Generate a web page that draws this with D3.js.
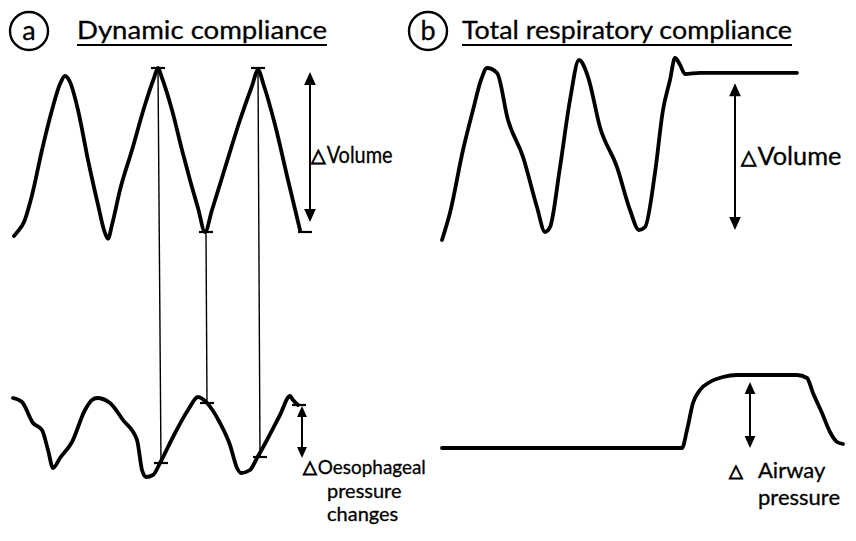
<!DOCTYPE html>
<html>
<head>
<meta charset="utf-8">
<script src="https://cdn.jsdelivr.net/npm/d3@7"></script>
<style>
  html, body { margin: 0; padding: 0; background: #fff; }
  svg { display: block; }
  text { font-family: "Lato", "Open Sans", sans-serif; fill: #000; stroke: #000; stroke-width: 0.3; }
</style>
</head>
<body>
<svg id="chart" width="856" height="541"></svg>
<script>
// ---------------- DATA ----------------
// Panel (a): lung volume trace (time s, volume mL)
const volATime = [0.08,0.16,0.28,0.44,0.64,0.84,1.00,1.10,1.20,1.36,1.56,1.76,1.88,1.96,2.04,2.20,2.44,2.70,2.88,2.96,3.04,3.24,3.44,3.60,3.76,3.90,4.04,4.30,4.60,4.84,4.96,5.08,5.30,5.56,5.80];
const volAValue = [10,22,45,112,225,325,390,410,395,325,200,88,25,3,38,125,225,338,405,430,405,325,225,150,80,20,75,180,300,385,425,385,288,150,25];

// Panel (a): oesophageal pressure trace (time s, cmH2O)
const oesTime = [0.06,0.24,0.46,0.64,0.76,0.86,1.00,1.24,1.50,1.64,1.74,2.00,2.26,2.54,2.64,2.72,2.86,3.00,3.26,3.56,3.76,3.94,4.20,4.40,4.54,4.62,4.80,4.94,5.14,5.40,5.60,5.66,5.76];
const oesValue = [0.2,-0.2,-2.3,-3.0,-5.0,-6.8,-5.8,-4.2,-1.0,0.0,0.2,-0.3,-2.0,-4.0,-7.0,-7.7,-7.5,-6.3,-3.7,-1.0,0.3,-0.3,-2.3,-4.5,-6.8,-7.3,-7.0,-5.8,-4.0,-1.5,0.4,0.0,-0.5];

// Panel (a): points of zero flow marked on the traces
const volMarkTime = [2.96, 3.92, 4.96, 5.90];
const volMarkValue = [430, 20, 430, 20];
const oesMarkTime = [3.02, 3.94, 5.00, 5.78];
const oesMarkValue = [-6.3, -0.3, -5.7, -0.5];
const markLinks = [[0, 0], [1, 1], [2, 2]];

// Panel (b): volume trace with end-inspiratory hold
const volBTime = [0.04,0.20,0.46,0.66,0.82,0.94,1.14,1.36,1.66,1.94,2.10,2.20,2.40,2.60,2.78,2.96,3.20,3.54,3.80,3.98,4.10,4.30,4.46,4.60,4.70,4.80,4.90,5.20,7.14];
const volBValue = [0,68,225,325,400,430,418,300,208,82,20,32,182,350,450,408,282,182,75,25,32,168,325,400,455,438,415,418,418];

// Panel (b): airway pressure trace (time s, cmH2O)
const awTime = [0.04,4.84,4.94,5.06,5.20,5.40,5.66,5.94,7.14,7.34,7.46,7.64,7.80,7.94,8.06];
const awValue = [0,0,1.8,4.5,5.8,6.6,7.1,7.3,7.3,7.0,5.5,3.5,1.6,0.6,0.4];

// Double-headed arrows: [time, from, to]
const arrowVolA = [6.0, 420, 45];
const arrowOesA = [5.84, -0.6, -5.8];
const arrowVolB = [5.9, 392, 25];
const arrowAwB = [6.2, 6.6, 0];

// Texts
const panelLetters = ["a", "b"];
const panelTitles = ["Dynamic compliance", "Total respiratory compliance"];
const volumeLabel = "Volume";
const oesLabelLines = ["Oesophageal", "pressure", "changes"];
const awLabelLines = ["Airway", "pressure"];

// ---------------- SCALES ----------------
const svg = d3.select("#chart");
const xA = d3.scaleLinear().domain([0, 6]).range([10, 310]);
const xB = d3.scaleLinear().domain([0, 8]).range([440, 840]);
const yVol = d3.scaleLinear().domain([0, 500]).range([240, 40]);
const yOes = d3.scaleLinear().domain([-8, 0]).range([480, 400]);
const yAw = d3.scaleLinear().domain([0, 8]).range([448, 368]);

const zip = (ts, vs) => ts.map((t, i) => [t, vs[i]]);
function trace(ts, vs, xs, ys) {
  const line = d3.line().x(d => xs(d[0])).y(d => ys(d[1])).curve(d3.curveMonotoneX);
  svg.append("path").attr("d", line(zip(ts, vs)))
    .attr("fill", "none").attr("stroke", "#000").attr("stroke-width", 3.8)
    .attr("stroke-linecap", "round").attr("stroke-linejoin", "round");
}

trace(volATime, volAValue, xA, yVol);
trace(oesTime, oesValue, xA, yOes);
trace(volBTime, volBValue, xB, yVol);
trace(awTime, awValue, xB, yAw);

// connecting lines
svg.append("g").selectAll("line").data(markLinks).join("line")
  .attr("x1", d => xA(volMarkTime[d[0]])).attr("y1", d => yVol(volMarkValue[d[0]]))
  .attr("x2", d => xA(oesMarkTime[d[1]])).attr("y2", d => yOes(oesMarkValue[d[1]]))
  .attr("stroke", "#000").attr("stroke-width", 1.4);

// tick marks
function marks(ts, vs, xs, ys) {
  svg.append("g").selectAll("line").data(ts).join("line")
    .attr("x1", d => xs(d) - 7).attr("x2", d => xs(d) + 7)
    .attr("y1", (d, i) => ys(vs[i])).attr("y2", (d, i) => ys(vs[i]))
    .attr("stroke", "#000").attr("stroke-width", 2.2);
}
marks(volMarkTime, volMarkValue, xA, yVol);
marks(oesMarkTime, oesMarkValue, xA, yOes);

// arrows
function arrow(a, xs, ys, head) {
  const x = xs(a[0]), y1 = ys(a[1]), y2 = ys(a[2]);
  const dir = y2 > y1 ? 1 : -1;
  svg.append("line").attr("x1", x).attr("x2", x)
    .attr("y1", y1 + dir * head * 0.8).attr("y2", y2 - dir * head * 0.8)
    .attr("stroke", "#000").attr("stroke-width", 2);
  const w = head * 0.45;
  [[y1, -dir], [y2, dir]].forEach(([yt, s]) => {
    svg.append("path")
      .attr("d", `M${x},${yt} L${x - w},${yt - s * head} L${x + w},${yt - s * head} Z`)
      .attr("fill", "#000");
  });
}
arrow(arrowVolA, xA, yVol, 13);
arrow(arrowOesA, xA, yOes, 11);
arrow(arrowVolB, xB, yVol, 13);
arrow(arrowAwB, xB, yAw, 12);

// titles
const titleX = [77, 462], titleW = [250, 330], circleX = [29, 428];
panelLetters.forEach((l, i) => {
  svg.append("circle").attr("cx", circleX[i]).attr("cy", 31).attr("r", 19)
    .attr("fill", "none").attr("stroke", "#000").attr("stroke-width", 2.4);
  svg.append("text").attr("x", circleX[i]).attr("y", 40).attr("text-anchor", "middle")
    .attr("font-size", 27).text(l);
  svg.append("text").attr("x", titleX[i]).attr("y", 39)
    .attr("font-size", 25).attr("textLength", titleW[i]).attr("lengthAdjust", "spacingAndGlyphs")
    .text(panelTitles[i]);
  svg.append("line").attr("x1", titleX[i]).attr("x2", titleX[i] + titleW[i])
    .attr("y1", 45).attr("y2", 45).attr("stroke", "#000").attr("stroke-width", 2);
});

// labels
function tri(t, size) {
  t.append("tspan").attr("font-family", "DejaVu Sans").attr("font-size", size)
    .attr("stroke-width", 0.9).attr("dy", -1).text("△");
}
function label(x, y, str, size, triSize, len) {
  const t = svg.append("text").attr("x", x).attr("y", y).attr("font-size", size);
  tri(t, triSize);
  t.append("tspan").attr("dx", 1).attr("dy", 1).attr("textLength", len).attr("lengthAdjust", "spacingAndGlyphs").text(str);
}
label(311, 163, volumeLabel, 23, 19, 66);
label(741, 165, volumeLabel, 25, 20, 84);
label(303, 474, oesLabelLines[0], 20, 18, 108);
svg.append("text").attr("x", 327).attr("y", 498).attr("font-size", 20).text(oesLabelLines[1]);
svg.append("text").attr("x", 327).attr("y", 521).attr("font-size", 20).text(oesLabelLines[2]);
const aw = svg.append("text").attr("x", 729).attr("y", 478).attr("font-size", 22);
tri(aw, 18);
aw.append("tspan").attr("x", 758).attr("dy", 1).text(awLabelLines[0]);
svg.append("text").attr("x", 758).attr("y", 505).attr("font-size", 22).text(awLabelLines[1]);
</script>
</body>
</html>
